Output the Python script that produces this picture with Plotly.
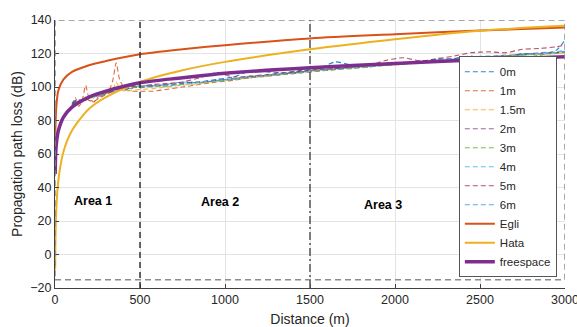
import plotly.graph_objects as go

# ---------------- data ----------------
# measured distances (m) for the dashed height series
D = [100, 120, 140, 160, 180, 200, 230, 260, 290, 320, 340, 360, 380, 410, 450, 500,
     575, 650, 750, 850, 950, 1050, 1150, 1250, 1350, 1450, 1550, 1650, 1750, 1850,
     1950, 2050, 2150, 2250, 2350, 2450, 2550, 2650, 2750, 2850, 2950, 3000]

h0m = [90.5, 92, 90, 93, 92, 94.5, 93.5, 96, 95.5, 97.5, 97, 98, 99, 98, 100, 99.5,
       101, 100.5, 102.5, 103, 104.5, 106, 109.5, 109, 108.5, 110, 111, 115, 113, 112.5,
       114, 113.5, 115.5, 116.5, 117, 118.5, 114.5, 117, 120, 119, 122, 128]
h1m = [89, 93.5, 88.5, 92, 101, 93.5, 91, 95, 95.5, 98.5, 104, 114.5, 104.5, 99, 97.5, 97.5,
       97.5, 98.5, 100, 101.5, 103, 104, 105.5, 106.5, 107.5, 108.5, 109.5, 110.5, 111.5, 112.5,
       113.5, 114, 115, 115.5, 116.5, 117.5, 118, 118.5, 119.5, 120, 120.5, 121]
h1_5m = [89.5, 91, 90.5, 91.5, 94, 92.5, 94, 94.5, 95.5, 96.5, 98, 103, 99, 97.5, 98, 98.5,
         99, 100, 101, 102, 103.5, 104.5, 105.5, 106.5, 108, 109, 110, 111, 111.5, 112.5,
         113, 114, 114.5, 115.5, 116, 117, 117.5, 118.5, 119, 119.5, 120, 120.5]
h2m = [90, 91.5, 91, 92.5, 93, 94, 94.5, 95, 96.5, 97, 98, 99, 98.5, 99.5, 100, 100,
       100.5, 101.5, 102, 103, 104, 105, 106, 107, 108, 109, 110, 110.5, 111.5, 112,
       113, 114, 115, 115.5, 116.5, 117.5, 118, 118.5, 119.5, 120, 120.5, 121]
h3m = [89, 90.5, 91.5, 92, 93.5, 93, 95, 95.5, 96, 97.5, 97.5, 98.5, 99, 99, 99.5, 100,
       100, 101, 101.5, 102.5, 103.5, 104.5, 105.5, 107, 107.5, 108.5, 109.5, 110.5, 111, 112,
       113, 113.5, 114.5, 115, 116, 117, 117.5, 118.5, 119, 119.5, 120, 120.5]
h4m = [90, 91, 92, 91.5, 93, 94.5, 94, 96, 96.5, 97, 98.5, 98, 99.5, 99, 100.5, 100,
       101, 100.5, 101.5, 103, 103.5, 104.5, 106, 106.5, 108, 108.5, 110, 110.5, 111.5, 112,
       113.5, 114, 114.5, 115.5, 116, 117, 116.5, 118, 119, 120, 120.5, 121.5]
h5m = [89.5, 91, 92, 92.5, 93, 92, 91.5, 93.5, 95, 96.5, 97.5, 98.5, 99.5, 100, 100.5, 100.5,
       101.5, 102, 103, 105.5, 108.5, 106, 106.5, 107.5, 108.5, 109.5, 110.5, 111, 112, 113,
       116, 117.5, 115.5, 117, 118.5, 120.5, 121, 120.5, 122.5, 123, 124, 125]
h6m = [90, 91.5, 92.5, 91, 93.5, 93, 95, 94.5, 96, 97, 98, 99, 98, 99.5, 99, 101,
       100.5, 101.5, 103, 102.5, 104, 105, 106.5, 107, 108, 109, 110.5, 111, 112, 113.5,
       113, 114.5, 115, 116.5, 117, 118, 118.5, 119, 119.5, 120.5, 121, 122]

HEIGHT_NAMES = ["0m", "1m", "1.5m", "2m", "3m", "4m", "5m", "6m"]
HEIGHT_SERIES = [h0m, h1m, h1_5m, h2m, h3m, h4m, h5m, h6m]

# model curves
D_MODEL = [1, 2, 5, 10, 20, 50, 100, 200, 300, 500, 750, 1000, 1500, 2000, 2500, 3000]
egli = [64, 72, 83, 91, 98, 104.5, 109, 113, 115.5, 119.5, 122.5, 125, 129, 131.5, 133.8, 135.5]
hata = [-9, 3, 20, 32, 44.5, 61.5, 74, 87, 94, 103, 110, 115, 122.5, 128.5, 133.6, 136.5]
freespace = [48, 54, 62, 68, 74, 82, 88, 94, 97.5, 102.5, 105.5, 108.2, 111.5, 114, 116.3, 118]

AREA_BOUNDS = [500, 1500]
AREA_LABELS = ["Area 1", "Area 2", "Area 3"]
AREA_LABEL_X = [226, 970, 1930]
AREA_LABEL_Y = [32, 31.5, 29.5]
BOX_X = [0, 3000]
BOX_Y = [-15, 140]

X_TICKS = [0, 500, 1000, 1500, 2000, 2500, 3000]
Y_TICKS = [-20, 0, 20, 40, 60, 80, 100, 120, 140]

# ---------------- styling ----------------
FONT = "Arial, 'Liberation Sans', Helvetica, sans-serif"
TXT = "#262626"
HEIGHT_COLORS = ["rgba(0,114,189,0.85)", "rgba(217,83,25,0.85)", "rgba(237,177,32,0.85)",
                 "rgba(126,47,142,0.75)", "rgba(119,172,48,0.85)", "rgba(77,190,238,0.9)",
                 "rgba(162,20,47,0.75)", "rgba(0,114,189,0.6)"]

fig = go.Figure()

for name, ys, col in zip(HEIGHT_NAMES, HEIGHT_SERIES, HEIGHT_COLORS):
    fig.add_trace(go.Scatter(x=D, y=ys, name=name, mode="lines",
                             line=dict(color=col, width=1.1, dash="5px,3px",
                                       shape="spline", smoothing=0.6)))

fig.add_trace(go.Scatter(x=D_MODEL, y=egli, name="Egli", mode="lines",
                         line=dict(color="#D95319", width=2, shape="spline", smoothing=0.8)))
fig.add_trace(go.Scatter(x=D_MODEL, y=hata, name="Hata", mode="lines",
                         line=dict(color="#EDB120", width=2, shape="spline", smoothing=0.8)))
fig.add_trace(go.Scatter(x=D_MODEL, y=freespace, name="freespace", mode="lines",
                         line=dict(color="#7E2F8E", width=3.5, shape="spline", smoothing=0.8)))

# dashed outline box and area boundaries
fig.add_shape(type="rect", xref="x", yref="y", x0=BOX_X[0], x1=BOX_X[1],
              y0=BOX_Y[0], y1=BOX_Y[1], line=dict(color="#8c8c8c", width=1.5, dash="6px,4px"),
              layer="above")
fig.add_shape(type="line", xref="x", yref="y", x0=AREA_BOUNDS[0], x1=AREA_BOUNDS[0],
              y0=Y_TICKS[0], y1=BOX_Y[1], line=dict(color="#333333", width=1.5, dash="6px,4px"),
              layer="above")
fig.add_shape(type="line", xref="x", yref="y", x0=AREA_BOUNDS[1], x1=AREA_BOUNDS[1],
              y0=Y_TICKS[0], y1=BOX_Y[1], line=dict(color="#555555", width=1.5, dash="8px,3px,2px,3px"),
              layer="above")

for lab, lx, ly in zip(AREA_LABELS, AREA_LABEL_X, AREA_LABEL_Y):
    fig.add_annotation(x=lx, y=ly, xref="x", yref="y", text="<b>%s</b>" % lab,
                       showarrow=False, font=dict(family=FONT, size=12.5, color="#000000"))

fig.update_layout(
    width=577, height=327,
    margin=dict(l=55, r=12, t=20, b=39, autoexpand=False),
    paper_bgcolor="white", plot_bgcolor="white",
    font=dict(family=FONT, size=12.5, color=TXT),
    showlegend=True,
    legend=dict(x=0.984, y=0.04, xanchor="right", yanchor="bottom",
                bgcolor="white", bordercolor="#555555", borderwidth=1,
                font=dict(family=FONT, size=11.5, color=TXT),
                itemwidth=30, tracegroupgap=0),
)
fig.update_xaxes(range=[0, 3000], tickvals=X_TICKS, showgrid=True, gridcolor="#e3e3e3",
                 gridwidth=1, zeroline=False, showline=True, linecolor="#404040", linewidth=1,
                 ticks="inside", ticklen=4, tickcolor="#404040", ticklabeloverflow="allow",
                 automargin=False,
                 tickfont=dict(family=FONT, size=12.5, color=TXT),
                 title=dict(text="Distance (m)", font=dict(family=FONT, size=14, color=TXT),
                            standoff=8))
fig.update_yaxes(range=[-20, 140], tickvals=Y_TICKS, showgrid=True, gridcolor="#e3e3e3",
                 gridwidth=1, zeroline=False, showline=True, linecolor="#404040", linewidth=1,
                 ticks="inside", ticklen=4, tickcolor="#404040", automargin=False,
                 tickfont=dict(family=FONT, size=12.5, color=TXT),
                 title=dict(text="Propagation path loss (dB)",
                            font=dict(family=FONT, size=14, color=TXT), standoff=4))

fig.write_html("out.html")
